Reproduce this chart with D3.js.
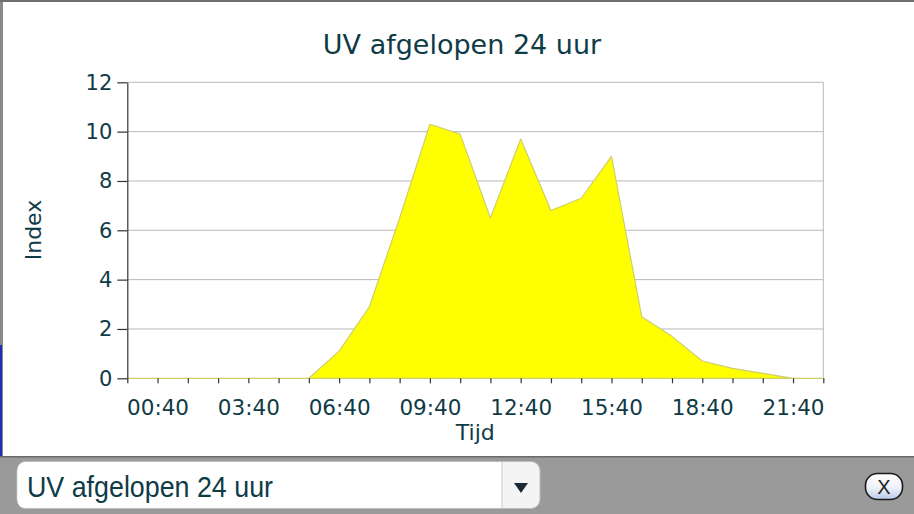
<!DOCTYPE html>
<html>
<head>
<meta charset="utf-8">
<script src="https://cdn.jsdelivr.net/npm/d3@7"></script>
<style>
  body { margin: 0; background: #9a9a9a; }
  svg { display: block; }
</style>
</head>
<body>
<div id="chart"></div>
<script>
// hourly UV readings, first point is 23:40 of the previous day
var times = ["23:40","00:40","01:40","02:40","03:40","04:40","05:40","06:40",
             "07:40","08:40","09:40","10:40","11:40","12:40","13:40","14:40",
             "15:40","16:40","17:40","18:40","19:40","20:40","21:40","22:40"];
var uvIndex = [0, 0, 0, 0, 0, 0, 0, 1.1,
               2.9, 6.5, 10.3, 9.9, 6.5, 9.7, 6.8, 7.3,
               9.0, 2.5, 1.7, 0.7, 0.4, 0.2, 0, 0];
var yTicks = [0, 2, 4, 6, 8, 10, 12];
var xLabels = ["00:40","03:40","06:40","09:40","12:40","15:40","18:40","21:40"];

var title = "UV afgelopen 24 uur";
var textColor = "#0f3b47";
var font = "'DejaVu Sans', Verdana, sans-serif";
var narrow = "'Liberation Sans Narrow', 'Arial Narrow', sans-serif";

var W = 914, H = 514;
var margin = {top: 82.3, right: 90.7, bottom: 135.7, left: 127.3},
    width = W - margin.left - margin.right,
    height = H - margin.top - margin.bottom;

var root = d3.select("#chart").append("svg")
    .attr("width", W)
    .attr("height", H);

// panel + frame
root.append("rect").attr("width", W).attr("height", H).attr("fill", "#9a9a9a");
root.append("rect").attr("x", 0).attr("y", 0).attr("width", W).attr("height", 2).attr("fill", "#6e6e6e");
root.append("rect").attr("x", 0).attr("y", 2).attr("width", 3).attr("height", 455).attr("fill", "#8a8a8a");
root.append("rect").attr("x", 0).attr("y", 345).attr("width", 2).attr("height", 111).attr("fill", "#1f2fb0");
root.append("rect").attr("x", 3).attr("y", 2).attr("width", W - 3).attr("height", 454).attr("fill", "#ffffff");
root.append("rect").attr("x", 0).attr("y", 456).attr("width", W).attr("height", 1.5).attr("fill", "#6a6a6a");

root.append("text")
    .attr("x", 462)
    .attr("y", 54)
    .attr("text-anchor", "middle")
    .attr("font-family", font)
    .attr("font-size", 27)
    .attr("fill", textColor)
    .text(title);

var svg = root.append("g")
    .attr("transform", `translate(${margin.left},${margin.top})`);

var x = d3.scalePoint()
    .domain(times)
    .range([0, width]);

var y = d3.scaleLinear()
    .domain([0, 12])
    .range([height, 0]);

// grid
svg.append("g")
  .selectAll("line")
  .data(yTicks.filter(d => d > 0))
  .enter().append("line")
    .attr("x1", 0)
    .attr("x2", width)
    .attr("y1", d => y(d))
    .attr("y2", d => y(d))
    .attr("stroke", "#b8b8b8")
    .attr("stroke-width", 1);

svg.append("line")
    .attr("x1", width).attr("x2", width)
    .attr("y1", 0).attr("y2", height)
    .attr("stroke", "#b8b8b8");

// area
var area = d3.area()
    .x((d, i) => x(times[i]))
    .y0(y(0))
    .y1(d => y(d));

svg.append("path")
    .datum(uvIndex)
    .attr("d", area)
    .attr("fill", "#ffff00")
    .attr("stroke", "#cfcf6a")
    .attr("stroke-width", 1.2)
    .attr("stroke-linejoin", "round");

// y axis
var yAxis = svg.append("g")
    .call(d3.axisLeft(y).tickValues(yTicks).tickSize(10).tickPadding(5).tickSizeOuter(0));
yAxis.select(".domain").attr("stroke", "#333").attr("stroke-width", 1.2);
yAxis.selectAll(".tick line").attr("stroke", "#333").attr("stroke-width", 1.2);
yAxis.selectAll("text")
    .attr("font-family", font)
    .attr("font-size", 21)
    .attr("fill", textColor);

// x axis
var xAxis = svg.append("g")
    .attr("transform", `translate(0,${height})`)
    .call(d3.axisBottom(x).tickSize(5).tickPadding(16)
      .tickFormat(d => xLabels.indexOf(d) >= 0 ? d : ""));
xAxis.select(".domain").remove();
xAxis.selectAll(".tick line").attr("stroke", "#333").attr("stroke-width", 1.2);
xAxis.selectAll("text")
    .attr("font-family", font)
    .attr("font-size", 21.5)
    .attr("fill", textColor);

svg.append("text")
    .attr("x", width / 2)
    .attr("y", height + 62)
    .attr("text-anchor", "middle")
    .attr("font-family", font)
    .attr("font-size", 22)
    .attr("fill", textColor)
    .text("Tijd");

svg.append("text")
    .attr("transform", "rotate(-90)")
    .attr("x", -(230 - margin.top))
    .attr("y", 41 - margin.left)
    .attr("text-anchor", "middle")
    .attr("font-family", font)
    .attr("font-size", 22)
    .attr("fill", textColor)
    .text("Index");

// bottom toolbar: select box + close button
var bar = root.append("g");

bar.append("rect")
    .attr("x", 17).attr("y", 461.5)
    .attr("width", 523).attr("height", 47)
    .attr("rx", 9)
    .attr("fill", "#f4f4f4")
    .attr("stroke", "#bdbdbd");
bar.append("path")
    .attr("d", "M26,462 H502 V508 H26 Q17.5,508 17.5,499 V471 Q17.5,462 26,462 Z")
    .attr("fill", "#ffffff");
bar.append("line")
    .attr("x1", 502).attr("x2", 502)
    .attr("y1", 462).attr("y2", 508)
    .attr("stroke", "#c8c8c8");
bar.append("path")
    .attr("d", "M514,483 L528,483 L521,493 Z")
    .attr("fill", "#1e2a33");
bar.append("text")
    .attr("x", 27)
    .attr("y", 497)
    .attr("font-family", narrow)
    .attr("font-size", 29)
    .attr("textLength", 246)
    .attr("lengthAdjust", "spacingAndGlyphs")
    .attr("fill", textColor)
    .text(title);

var defs = root.append("defs");
var grad = defs.append("linearGradient")
    .attr("id", "btn").attr("x1", 0).attr("x2", 0).attr("y1", 0).attr("y2", 1);
grad.append("stop").attr("offset", "0%").attr("stop-color", "#ffffff");
grad.append("stop").attr("offset", "55%").attr("stop-color", "#eef1f8");
grad.append("stop").attr("offset", "100%").attr("stop-color", "#b9c7ea");

bar.append("rect")
    .attr("x", 865.5).attr("y", 473.5)
    .attr("width", 37).attr("height", 26)
    .attr("rx", 12)
    .attr("fill", "url(#btn)")
    .attr("stroke", "#1a1a1a")
    .attr("stroke-width", 1.6);
bar.append("text")
    .attr("x", 884)
    .attr("y", 494)
    .attr("text-anchor", "middle")
    .attr("font-family", narrow)
    .attr("font-size", 20)
    .attr("fill", "#222")
    .text("X");
</script>
</body>
</html>
